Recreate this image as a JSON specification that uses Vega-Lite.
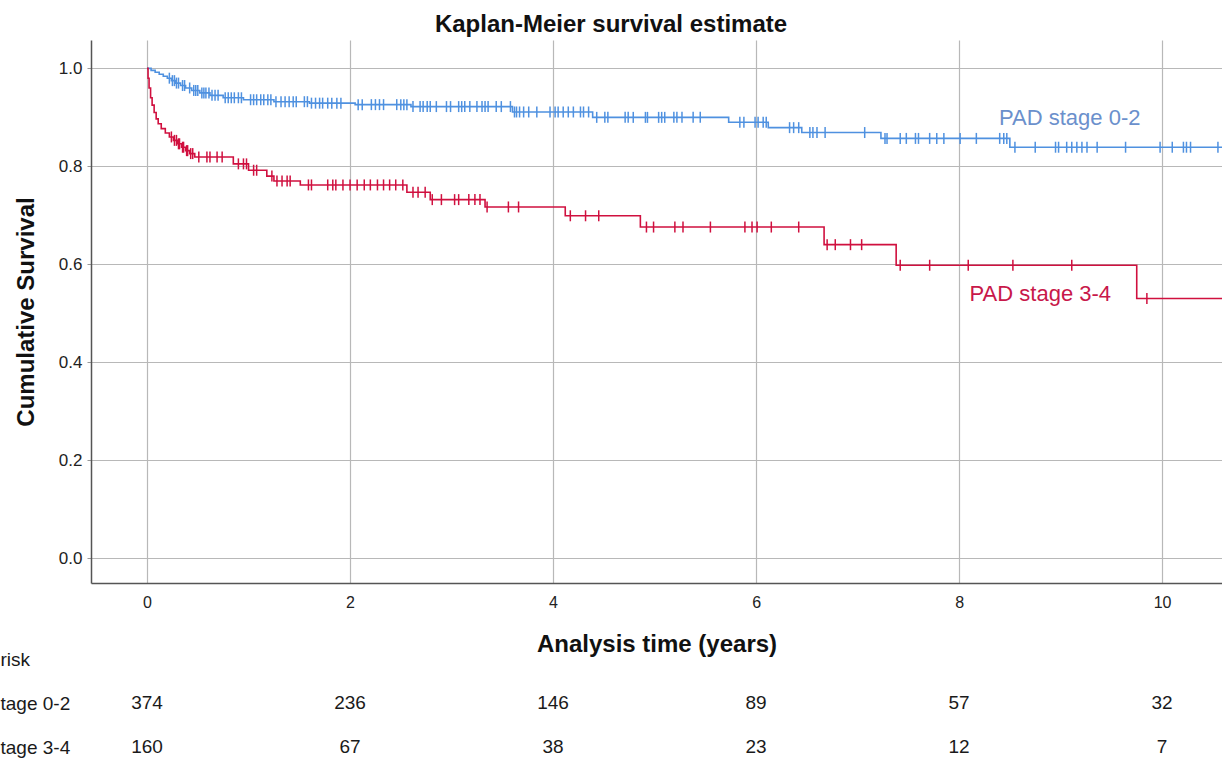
{
  "$schema": "https://vega.github.io/schema/vega-lite/v6.json",
  "background": "white",
  "padding": {"left": 0, "top": 13, "right": 0, "bottom": 0},
  "bounds": "flush",
  "spacing": 54,
  "title": {"text": "Kaplan-Meier survival estimate", "font": "Liberation Sans", "fontSize": 24, "fontWeight": "bold", "color": "#111111", "anchor": "middle", "offset": 3},
  "config": {"view": {"stroke": null}, "font": "Liberation Sans"},
  "datasets": {
    "km": [
      {"g":"0-2","t":0,"s":1,"c":0},
      {"g":"0-2","t":0.04,"s":0.996,"c":0},
      {"g":"0-2","t":0.08,"s":0.992,"c":0},
      {"g":"0-2","t":0.12,"s":0.988,"c":0},
      {"g":"0-2","t":0.16,"s":0.984,"c":0},
      {"g":"0-2","t":0.2,"s":0.98,"c":0},
      {"g":"0-2","t":0.22,"s":0.98,"c":1},
      {"g":"0-2","t":0.24,"s":0.975,"c":0},
      {"g":"0-2","t":0.25,"s":0.975,"c":1},
      {"g":"0-2","t":0.27,"s":0.975,"c":1},
      {"g":"0-2","t":0.28,"s":0.97,"c":0},
      {"g":"0-2","t":0.29,"s":0.97,"c":1},
      {"g":"0-2","t":0.31,"s":0.97,"c":1},
      {"g":"0-2","t":0.33,"s":0.965,"c":0},
      {"g":"0-2","t":0.35,"s":0.965,"c":1},
      {"g":"0-2","t":0.37,"s":0.965,"c":1},
      {"g":"0-2","t":0.38,"s":0.96,"c":0},
      {"g":"0-2","t":0.42,"s":0.96,"c":1},
      {"g":"0-2","t":0.44,"s":0.955,"c":0},
      {"g":"0-2","t":0.46,"s":0.955,"c":1},
      {"g":"0-2","t":0.48,"s":0.955,"c":1},
      {"g":"0-2","t":0.5,"s":0.955,"c":1},
      {"g":"0-2","t":0.52,"s":0.95,"c":0},
      {"g":"0-2","t":0.54,"s":0.95,"c":1},
      {"g":"0-2","t":0.56,"s":0.95,"c":1},
      {"g":"0-2","t":0.58,"s":0.95,"c":1},
      {"g":"0-2","t":0.61,"s":0.95,"c":1},
      {"g":"0-2","t":0.62,"s":0.945,"c":0},
      {"g":"0-2","t":0.64,"s":0.945,"c":1},
      {"g":"0-2","t":0.67,"s":0.945,"c":1},
      {"g":"0-2","t":0.7,"s":0.945,"c":1},
      {"g":"0-2","t":0.75,"s":0.94,"c":0},
      {"g":"0-2","t":0.77,"s":0.94,"c":1},
      {"g":"0-2","t":0.8,"s":0.94,"c":1},
      {"g":"0-2","t":0.83,"s":0.94,"c":1},
      {"g":"0-2","t":0.86,"s":0.94,"c":1},
      {"g":"0-2","t":0.9,"s":0.94,"c":1},
      {"g":"0-2","t":0.93,"s":0.94,"c":1},
      {"g":"0-2","t":0.95,"s":0.936,"c":0},
      {"g":"0-2","t":1.02,"s":0.936,"c":1},
      {"g":"0-2","t":1.05,"s":0.936,"c":1},
      {"g":"0-2","t":1.08,"s":0.936,"c":1},
      {"g":"0-2","t":1.12,"s":0.936,"c":1},
      {"g":"0-2","t":1.15,"s":0.936,"c":1},
      {"g":"0-2","t":1.19,"s":0.936,"c":1},
      {"g":"0-2","t":1.22,"s":0.936,"c":1},
      {"g":"0-2","t":1.25,"s":0.932,"c":0},
      {"g":"0-2","t":1.27,"s":0.932,"c":1},
      {"g":"0-2","t":1.32,"s":0.932,"c":1},
      {"g":"0-2","t":1.36,"s":0.932,"c":1},
      {"g":"0-2","t":1.4,"s":0.932,"c":1},
      {"g":"0-2","t":1.44,"s":0.932,"c":1},
      {"g":"0-2","t":1.47,"s":0.932,"c":1},
      {"g":"0-2","t":1.55,"s":0.932,"c":1},
      {"g":"0-2","t":1.58,"s":0.932,"c":1},
      {"g":"0-2","t":1.6,"s":0.929,"c":0},
      {"g":"0-2","t":1.62,"s":0.929,"c":1},
      {"g":"0-2","t":1.66,"s":0.929,"c":1},
      {"g":"0-2","t":1.7,"s":0.929,"c":1},
      {"g":"0-2","t":1.73,"s":0.929,"c":1},
      {"g":"0-2","t":1.78,"s":0.929,"c":1},
      {"g":"0-2","t":1.82,"s":0.929,"c":1},
      {"g":"0-2","t":1.87,"s":0.929,"c":1},
      {"g":"0-2","t":1.91,"s":0.929,"c":1},
      {"g":"0-2","t":2.05,"s":0.926,"c":0},
      {"g":"0-2","t":2.08,"s":0.926,"c":1},
      {"g":"0-2","t":2.12,"s":0.926,"c":1},
      {"g":"0-2","t":2.21,"s":0.926,"c":1},
      {"g":"0-2","t":2.25,"s":0.926,"c":1},
      {"g":"0-2","t":2.29,"s":0.926,"c":1},
      {"g":"0-2","t":2.33,"s":0.926,"c":1},
      {"g":"0-2","t":2.46,"s":0.926,"c":1},
      {"g":"0-2","t":2.5,"s":0.926,"c":1},
      {"g":"0-2","t":2.53,"s":0.926,"c":1},
      {"g":"0-2","t":2.56,"s":0.926,"c":1},
      {"g":"0-2","t":2.6,"s":0.922,"c":0},
      {"g":"0-2","t":2.62,"s":0.922,"c":1},
      {"g":"0-2","t":2.69,"s":0.922,"c":1},
      {"g":"0-2","t":2.72,"s":0.922,"c":1},
      {"g":"0-2","t":2.76,"s":0.922,"c":1},
      {"g":"0-2","t":2.79,"s":0.922,"c":1},
      {"g":"0-2","t":2.85,"s":0.922,"c":1},
      {"g":"0-2","t":2.95,"s":0.922,"c":1},
      {"g":"0-2","t":2.99,"s":0.922,"c":1},
      {"g":"0-2","t":3.07,"s":0.922,"c":1},
      {"g":"0-2","t":3.1,"s":0.922,"c":1},
      {"g":"0-2","t":3.13,"s":0.922,"c":1},
      {"g":"0-2","t":3.18,"s":0.922,"c":1},
      {"g":"0-2","t":3.25,"s":0.922,"c":1},
      {"g":"0-2","t":3.3,"s":0.922,"c":1},
      {"g":"0-2","t":3.33,"s":0.922,"c":1},
      {"g":"0-2","t":3.36,"s":0.922,"c":1},
      {"g":"0-2","t":3.44,"s":0.922,"c":1},
      {"g":"0-2","t":3.49,"s":0.922,"c":1},
      {"g":"0-2","t":3.58,"s":0.922,"c":1},
      {"g":"0-2","t":3.6,"s":0.911,"c":0},
      {"g":"0-2","t":3.62,"s":0.911,"c":1},
      {"g":"0-2","t":3.64,"s":0.911,"c":1},
      {"g":"0-2","t":3.67,"s":0.911,"c":1},
      {"g":"0-2","t":3.71,"s":0.911,"c":1},
      {"g":"0-2","t":3.76,"s":0.911,"c":1},
      {"g":"0-2","t":3.84,"s":0.911,"c":1},
      {"g":"0-2","t":3.97,"s":0.911,"c":1},
      {"g":"0-2","t":4.02,"s":0.911,"c":1},
      {"g":"0-2","t":4.05,"s":0.911,"c":1},
      {"g":"0-2","t":4.1,"s":0.911,"c":1},
      {"g":"0-2","t":4.15,"s":0.911,"c":1},
      {"g":"0-2","t":4.2,"s":0.911,"c":1},
      {"g":"0-2","t":4.27,"s":0.911,"c":1},
      {"g":"0-2","t":4.3,"s":0.911,"c":1},
      {"g":"0-2","t":4.35,"s":0.911,"c":1},
      {"g":"0-2","t":4.39,"s":0.9,"c":0},
      {"g":"0-2","t":4.43,"s":0.9,"c":1},
      {"g":"0-2","t":4.51,"s":0.9,"c":1},
      {"g":"0-2","t":4.54,"s":0.9,"c":1},
      {"g":"0-2","t":4.71,"s":0.9,"c":1},
      {"g":"0-2","t":4.74,"s":0.9,"c":1},
      {"g":"0-2","t":4.79,"s":0.9,"c":1},
      {"g":"0-2","t":4.91,"s":0.9,"c":1},
      {"g":"0-2","t":4.93,"s":0.9,"c":1},
      {"g":"0-2","t":5.04,"s":0.9,"c":1},
      {"g":"0-2","t":5.07,"s":0.9,"c":1},
      {"g":"0-2","t":5.1,"s":0.9,"c":1},
      {"g":"0-2","t":5.19,"s":0.9,"c":1},
      {"g":"0-2","t":5.22,"s":0.9,"c":1},
      {"g":"0-2","t":5.27,"s":0.9,"c":1},
      {"g":"0-2","t":5.38,"s":0.9,"c":1},
      {"g":"0-2","t":5.45,"s":0.9,"c":1},
      {"g":"0-2","t":5.73,"s":0.89,"c":0},
      {"g":"0-2","t":5.84,"s":0.89,"c":1},
      {"g":"0-2","t":5.88,"s":0.89,"c":1},
      {"g":"0-2","t":5.99,"s":0.89,"c":1},
      {"g":"0-2","t":6.02,"s":0.89,"c":1},
      {"g":"0-2","t":6.07,"s":0.89,"c":1},
      {"g":"0-2","t":6.1,"s":0.89,"c":1},
      {"g":"0-2","t":6.12,"s":0.879,"c":0},
      {"g":"0-2","t":6.33,"s":0.879,"c":1},
      {"g":"0-2","t":6.37,"s":0.879,"c":1},
      {"g":"0-2","t":6.42,"s":0.879,"c":1},
      {"g":"0-2","t":6.45,"s":0.869,"c":0},
      {"g":"0-2","t":6.53,"s":0.869,"c":1},
      {"g":"0-2","t":6.56,"s":0.869,"c":1},
      {"g":"0-2","t":6.6,"s":0.869,"c":1},
      {"g":"0-2","t":6.68,"s":0.869,"c":1},
      {"g":"0-2","t":7.07,"s":0.869,"c":1},
      {"g":"0-2","t":7.23,"s":0.857,"c":0},
      {"g":"0-2","t":7.27,"s":0.857,"c":1},
      {"g":"0-2","t":7.29,"s":0.857,"c":1},
      {"g":"0-2","t":7.42,"s":0.857,"c":1},
      {"g":"0-2","t":7.48,"s":0.857,"c":1},
      {"g":"0-2","t":7.57,"s":0.857,"c":1},
      {"g":"0-2","t":7.6,"s":0.857,"c":1},
      {"g":"0-2","t":7.71,"s":0.857,"c":1},
      {"g":"0-2","t":7.78,"s":0.857,"c":1},
      {"g":"0-2","t":7.85,"s":0.857,"c":1},
      {"g":"0-2","t":8.01,"s":0.857,"c":1},
      {"g":"0-2","t":8.17,"s":0.857,"c":1},
      {"g":"0-2","t":8.4,"s":0.857,"c":1},
      {"g":"0-2","t":8.44,"s":0.857,"c":1},
      {"g":"0-2","t":8.47,"s":0.857,"c":1},
      {"g":"0-2","t":8.5,"s":0.839,"c":0},
      {"g":"0-2","t":8.55,"s":0.839,"c":1},
      {"g":"0-2","t":8.75,"s":0.839,"c":1},
      {"g":"0-2","t":8.95,"s":0.839,"c":1},
      {"g":"0-2","t":8.98,"s":0.839,"c":1},
      {"g":"0-2","t":9.06,"s":0.839,"c":1},
      {"g":"0-2","t":9.11,"s":0.839,"c":1},
      {"g":"0-2","t":9.16,"s":0.839,"c":1},
      {"g":"0-2","t":9.21,"s":0.839,"c":1},
      {"g":"0-2","t":9.26,"s":0.839,"c":1},
      {"g":"0-2","t":9.36,"s":0.839,"c":1},
      {"g":"0-2","t":9.64,"s":0.839,"c":1},
      {"g":"0-2","t":9.98,"s":0.839,"c":1},
      {"g":"0-2","t":10.1,"s":0.839,"c":1},
      {"g":"0-2","t":10.21,"s":0.839,"c":1},
      {"g":"0-2","t":10.24,"s":0.839,"c":1},
      {"g":"0-2","t":10.28,"s":0.839,"c":1},
      {"g":"0-2","t":10.55,"s":0.839,"c":1},
      {"g":"0-2","t":10.6,"s":0.839,"c":0},

      {"g":"3-4","t":0,"s":1,"c":0},
      {"g":"3-4","t":0.01,"s":0.98,"c":0},
      {"g":"3-4","t":0.02,"s":0.96,"c":0},
      {"g":"3-4","t":0.035,"s":0.94,"c":0},
      {"g":"3-4","t":0.05,"s":0.925,"c":0},
      {"g":"3-4","t":0.07,"s":0.91,"c":0},
      {"g":"3-4","t":0.09,"s":0.897,"c":0},
      {"g":"3-4","t":0.11,"s":0.887,"c":0},
      {"g":"3-4","t":0.14,"s":0.877,"c":0},
      {"g":"3-4","t":0.18,"s":0.868,"c":0},
      {"g":"3-4","t":0.22,"s":0.86,"c":0},
      {"g":"3-4","t":0.24,"s":0.86,"c":1},
      {"g":"3-4","t":0.26,"s":0.853,"c":0},
      {"g":"3-4","t":0.27,"s":0.853,"c":1},
      {"g":"3-4","t":0.29,"s":0.853,"c":1},
      {"g":"3-4","t":0.3,"s":0.846,"c":0},
      {"g":"3-4","t":0.31,"s":0.846,"c":1},
      {"g":"3-4","t":0.32,"s":0.846,"c":1},
      {"g":"3-4","t":0.34,"s":0.839,"c":0},
      {"g":"3-4","t":0.35,"s":0.839,"c":1},
      {"g":"3-4","t":0.36,"s":0.839,"c":1},
      {"g":"3-4","t":0.38,"s":0.832,"c":0},
      {"g":"3-4","t":0.39,"s":0.832,"c":1},
      {"g":"3-4","t":0.4,"s":0.832,"c":1},
      {"g":"3-4","t":0.42,"s":0.826,"c":0},
      {"g":"3-4","t":0.43,"s":0.826,"c":1},
      {"g":"3-4","t":0.45,"s":0.826,"c":1},
      {"g":"3-4","t":0.47,"s":0.819,"c":0},
      {"g":"3-4","t":0.51,"s":0.819,"c":1},
      {"g":"3-4","t":0.59,"s":0.819,"c":1},
      {"g":"3-4","t":0.62,"s":0.819,"c":1},
      {"g":"3-4","t":0.69,"s":0.819,"c":1},
      {"g":"3-4","t":0.74,"s":0.819,"c":1},
      {"g":"3-4","t":0.85,"s":0.805,"c":0},
      {"g":"3-4","t":0.9,"s":0.805,"c":1},
      {"g":"3-4","t":0.95,"s":0.805,"c":1},
      {"g":"3-4","t":0.98,"s":0.805,"c":1},
      {"g":"3-4","t":1.0,"s":0.792,"c":0},
      {"g":"3-4","t":1.05,"s":0.792,"c":1},
      {"g":"3-4","t":1.08,"s":0.792,"c":1},
      {"g":"3-4","t":1.18,"s":0.78,"c":0},
      {"g":"3-4","t":1.23,"s":0.78,"c":1},
      {"g":"3-4","t":1.25,"s":0.77,"c":0},
      {"g":"3-4","t":1.28,"s":0.77,"c":1},
      {"g":"3-4","t":1.33,"s":0.77,"c":1},
      {"g":"3-4","t":1.38,"s":0.77,"c":1},
      {"g":"3-4","t":1.41,"s":0.77,"c":1},
      {"g":"3-4","t":1.51,"s":0.762,"c":0},
      {"g":"3-4","t":1.59,"s":0.762,"c":1},
      {"g":"3-4","t":1.62,"s":0.762,"c":1},
      {"g":"3-4","t":1.78,"s":0.762,"c":1},
      {"g":"3-4","t":1.83,"s":0.762,"c":1},
      {"g":"3-4","t":1.86,"s":0.762,"c":1},
      {"g":"3-4","t":1.93,"s":0.762,"c":1},
      {"g":"3-4","t":2.0,"s":0.762,"c":1},
      {"g":"3-4","t":2.07,"s":0.762,"c":1},
      {"g":"3-4","t":2.14,"s":0.762,"c":1},
      {"g":"3-4","t":2.2,"s":0.762,"c":1},
      {"g":"3-4","t":2.27,"s":0.762,"c":1},
      {"g":"3-4","t":2.33,"s":0.762,"c":1},
      {"g":"3-4","t":2.39,"s":0.762,"c":1},
      {"g":"3-4","t":2.45,"s":0.762,"c":1},
      {"g":"3-4","t":2.52,"s":0.762,"c":1},
      {"g":"3-4","t":2.56,"s":0.747,"c":0},
      {"g":"3-4","t":2.62,"s":0.747,"c":1},
      {"g":"3-4","t":2.67,"s":0.747,"c":1},
      {"g":"3-4","t":2.74,"s":0.747,"c":1},
      {"g":"3-4","t":2.79,"s":0.732,"c":0},
      {"g":"3-4","t":2.81,"s":0.732,"c":1},
      {"g":"3-4","t":2.9,"s":0.732,"c":1},
      {"g":"3-4","t":3.03,"s":0.732,"c":1},
      {"g":"3-4","t":3.07,"s":0.732,"c":1},
      {"g":"3-4","t":3.17,"s":0.732,"c":1},
      {"g":"3-4","t":3.23,"s":0.732,"c":1},
      {"g":"3-4","t":3.28,"s":0.732,"c":1},
      {"g":"3-4","t":3.33,"s":0.717,"c":0},
      {"g":"3-4","t":3.35,"s":0.717,"c":1},
      {"g":"3-4","t":3.56,"s":0.717,"c":1},
      {"g":"3-4","t":3.66,"s":0.717,"c":1},
      {"g":"3-4","t":4.12,"s":0.699,"c":0},
      {"g":"3-4","t":4.17,"s":0.699,"c":1},
      {"g":"3-4","t":4.32,"s":0.699,"c":1},
      {"g":"3-4","t":4.45,"s":0.699,"c":1},
      {"g":"3-4","t":4.86,"s":0.676,"c":0},
      {"g":"3-4","t":4.92,"s":0.676,"c":1},
      {"g":"3-4","t":4.99,"s":0.676,"c":1},
      {"g":"3-4","t":5.2,"s":0.676,"c":1},
      {"g":"3-4","t":5.28,"s":0.676,"c":1},
      {"g":"3-4","t":5.55,"s":0.676,"c":1},
      {"g":"3-4","t":5.89,"s":0.676,"c":1},
      {"g":"3-4","t":5.96,"s":0.676,"c":1},
      {"g":"3-4","t":6.01,"s":0.676,"c":1},
      {"g":"3-4","t":6.15,"s":0.676,"c":1},
      {"g":"3-4","t":6.42,"s":0.676,"c":1},
      {"g":"3-4","t":6.67,"s":0.64,"c":0},
      {"g":"3-4","t":6.7,"s":0.64,"c":1},
      {"g":"3-4","t":6.78,"s":0.64,"c":1},
      {"g":"3-4","t":6.93,"s":0.64,"c":1},
      {"g":"3-4","t":7.04,"s":0.64,"c":1},
      {"g":"3-4","t":7.38,"s":0.598,"c":0},
      {"g":"3-4","t":7.42,"s":0.598,"c":1},
      {"g":"3-4","t":7.71,"s":0.598,"c":1},
      {"g":"3-4","t":8.09,"s":0.598,"c":1},
      {"g":"3-4","t":8.53,"s":0.598,"c":1},
      {"g":"3-4","t":9.11,"s":0.598,"c":1},
      {"g":"3-4","t":9.75,"s":0.53,"c":0},
      {"g":"3-4","t":9.85,"s":0.53,"c":1},
      {"g":"3-4","t":10.6,"s":0.53,"c":0}
    ],
    "labels": [
      {"g": "0-2", "label": "PAD stage 0-2", "t": 9.09, "s": 0.899},
      {"g": "3-4", "label": "PAD stage 3-4", "t": 8.8, "s": 0.539}
    ],
    "risk": [
      {"row": "tage 0-2", "t": 0, "n": "374"},
      {"row": "tage 0-2", "t": 2, "n": "236"},
      {"row": "tage 0-2", "t": 4, "n": "146"},
      {"row": "tage 0-2", "t": 6, "n": "89"},
      {"row": "tage 0-2", "t": 8, "n": "57"},
      {"row": "tage 0-2", "t": 10, "n": "32"},
      {"row": "tage 3-4", "t": 0, "n": "160"},
      {"row": "tage 3-4", "t": 2, "n": "67"},
      {"row": "tage 3-4", "t": 4, "n": "38"},
      {"row": "tage 3-4", "t": 6, "n": "23"},
      {"row": "tage 3-4", "t": 8, "n": "12"},
      {"row": "tage 3-4", "t": 10, "n": "7"}
    ]
  },
  "vconcat": [
    {
      "width": 1131,
      "height": 543,
      "encoding": {
        "x": {"field": "t", "type": "quantitative",
          "scale": {"domain": [-0.552, 10.59], "nice": false, "zero": false},
          "axis": {"values": [0, 2, 4, 6, 8, 10], "format": "d", "title": "Analysis time (years)",
            "titleFont": "Liberation Sans", "titleFontSize": 24, "titleFontWeight": "bold", "titleColor": "#111111", "titlePadding": 22,
            "labelFont": "Liberation Sans", "labelFontSize": 16, "labelColor": "#222222", "labelPadding": 11,
            "ticks": false, "domainColor": "#555555", "domainWidth": 1.5, "grid": true, "gridColor": "#b8b8b8", "gridWidth": 1.2}},
        "y": {"field": "s", "type": "quantitative",
          "scale": {"domain": [-0.051, 1.058], "nice": false, "zero": false},
          "axis": {"values": [0, 0.2, 0.4, 0.6, 0.8, 1.0], "format": ".1f", "title": "Cumulative Survival",
            "titleFont": "Liberation Sans", "titleFontSize": 24, "titleFontWeight": "bold", "titleColor": "#111111", "titlePadding": 20,
            "labelFont": "Liberation Sans", "labelFontSize": 17, "labelColor": "#222222", "labelPadding": 5,
            "ticks": true, "tickSize": 4, "tickColor": "#999999", "tickWidth": 1,
            "domainColor": "#555555", "domainWidth": 1.5, "grid": true, "gridColor": "#b8b8b8", "gridWidth": 1.2}}
      },
      "layer": [
        {
          "data": {"name": "km"},
          "mark": {"type": "line", "interpolate": "step-after", "strokeWidth": 1.6, "clip": true},
          "encoding": {
            "color": {"field": "g", "type": "nominal", "scale": {"domain": ["0-2", "3-4"], "range": ["#4f91e0", "#d0103f"]}, "legend": null}
          }
        },
        {
          "data": {"name": "km"},
          "transform": [{"filter": "datum.c == 1"}],
          "mark": {"type": "tick", "orient": "vertical", "size": 11, "thickness": 1.5, "opacity": 1, "clip": true},
          "encoding": {
            "color": {"field": "g", "type": "nominal", "legend": null}
          }
        },
        {
          "data": {"name": "labels"},
          "transform": [{"filter": "datum.g == '0-2'"}],
          "mark": {"type": "text", "font": "Liberation Sans", "fontSize": 22, "color": "#6b90cc", "align": "center", "baseline": "middle"},
          "encoding": {"text": {"field": "label"}}
        },
        {
          "data": {"name": "labels"},
          "transform": [{"filter": "datum.g == '3-4'"}],
          "mark": {"type": "text", "font": "Liberation Sans", "fontSize": 22, "color": "#c8184a", "align": "center", "baseline": "middle"},
          "encoding": {"text": {"field": "label"}}
        }
      ]
    },
    {
      "width": 1131,
      "height": 132,
      "data": {"name": "risk"},
      "mark": {"type": "text", "font": "Liberation Sans", "fontSize": 19, "color": "#1a1a1a", "align": "center", "baseline": "middle"},
      "encoding": {
        "x": {"field": "t", "type": "quantitative", "scale": {"domain": [-0.552, 10.59], "nice": false, "zero": false}, "axis": null},
        "y": {"field": "row", "type": "nominal",
          "scale": {"type": "point", "domain": ["risk", "tage 0-2", "tage 3-4"], "padding": 0.5},
          "axis": {"title": null, "domain": false, "ticks": false, "grid": false, "labelAlign": "left", "labelBaseline": "middle", "labelPadding": 91,
            "labelFont": "Liberation Sans", "labelFontSize": 19, "labelColor": "#1a1a1a"}},
        "text": {"field": "n"}
      }
    }
  ]
}
